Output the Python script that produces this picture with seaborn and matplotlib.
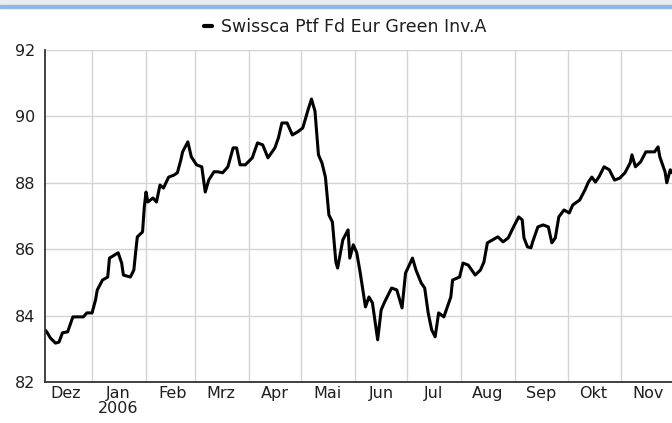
import matplotlib
matplotlib.use("Agg")
import matplotlib.pyplot as plt
from matplotlib.patches import Rectangle
import numpy as np
import pandas as pd
import seaborn as sns

# fund price (Dec 2005 - Nov 2006)
dates = [
    "2005-12-05", "2005-12-06", "2005-12-08", "2005-12-11", "2005-12-13", "2005-12-15",
    "2005-12-18", "2005-12-21", "2005-12-23", "2005-12-27", "2005-12-29",
    "2006-01-01", "2006-01-03", "2006-01-04", "2006-01-07", "2006-01-10", "2006-01-11",
    "2006-01-16", "2006-01-18", "2006-01-19", "2006-01-23", "2006-01-25", "2006-01-26",
    "2006-01-27", "2006-01-30", "2006-01-31",
    "2006-02-01", "2006-02-02", "2006-02-05", "2006-02-07", "2006-02-09", "2006-02-11",
    "2006-02-14", "2006-02-17", "2006-02-19", "2006-02-21", "2006-02-22", "2006-02-25",
    "2006-02-27",
    "2006-03-02", "2006-03-05", "2006-03-07", "2006-03-09", "2006-03-12", "2006-03-14",
    "2006-03-17", "2006-03-20", "2006-03-23", "2006-03-25", "2006-03-27", "2006-03-30",
    "2006-04-03", "2006-04-06", "2006-04-09", "2006-04-12", "2006-04-16", "2006-04-18",
    "2006-04-20", "2006-04-23", "2006-04-26", "2006-04-29",
    "2006-05-02", "2006-05-05", "2006-05-07", "2006-05-09", "2006-05-11", "2006-05-13",
    "2006-05-15", "2006-05-17", "2006-05-19", "2006-05-21", "2006-05-22", "2006-05-25",
    "2006-05-28", "2006-05-29", "2006-05-31",
    "2006-06-02", "2006-06-04", "2006-06-07", "2006-06-09", "2006-06-11", "2006-06-14",
    "2006-06-16", "2006-06-18", "2006-06-22", "2006-06-25", "2006-06-28", "2006-06-30",
    "2006-07-04", "2006-07-06", "2006-07-09", "2006-07-11", "2006-07-13", "2006-07-15",
    "2006-07-17", "2006-07-19", "2006-07-22", "2006-07-26", "2006-07-27", "2006-07-31",
    "2006-08-02", "2006-08-05", "2006-08-09", "2006-08-12", "2006-08-14", "2006-08-16",
    "2006-08-19", "2006-08-22", "2006-08-25", "2006-08-28", "2006-08-31",
    "2006-09-03", "2006-09-05", "2006-09-06", "2006-09-08", "2006-09-10", "2006-09-11",
    "2006-09-14", "2006-09-17", "2006-09-20", "2006-09-22", "2006-09-24", "2006-09-26",
    "2006-09-29",
    "2006-10-02", "2006-10-04", "2006-10-08", "2006-10-11", "2006-10-13", "2006-10-15",
    "2006-10-17", "2006-10-19", "2006-10-22", "2006-10-25", "2006-10-28", "2006-10-31",
    "2006-11-03", "2006-11-06", "2006-11-07", "2006-11-09", "2006-11-12", "2006-11-15",
    "2006-11-20", "2006-11-22", "2006-11-23", "2006-11-26", "2006-11-27", "2006-11-29",
    "2006-11-30",
]
prices = [
    83.57, 83.51, 83.33, 83.17, 83.20, 83.48,
    83.51, 83.96, 83.96, 83.96, 84.08,
    84.08, 84.47, 84.77, 85.07, 85.16, 85.73,
    85.89, 85.58, 85.22, 85.16, 85.37, 85.89,
    86.37, 86.52, 87.27,
    87.72, 87.42, 87.54, 87.42, 87.93, 87.84,
    88.17, 88.23, 88.30, 88.69, 88.93, 89.23,
    88.78,
    88.54, 88.48, 87.72, 88.08, 88.33, 88.33,
    88.30, 88.48, 89.05, 89.05, 88.54, 88.54,
    88.75, 89.20, 89.14, 88.75, 89.05, 89.35,
    89.80, 89.80, 89.44, 89.53,
    89.65, 90.19, 90.52, 90.16, 88.84, 88.60,
    88.17, 87.03, 86.82, 85.61, 85.43, 86.28,
    86.58, 85.73, 86.13,
    85.89, 85.28, 84.26, 84.56, 84.38, 83.27,
    84.17, 84.41, 84.83, 84.77, 84.23, 85.28,
    85.73, 85.37, 84.98, 84.83, 84.08, 83.57,
    83.36, 84.08, 83.96, 84.56, 85.07, 85.16,
    85.58, 85.52, 85.22, 85.37, 85.61, 86.19,
    86.28, 86.37, 86.22, 86.34, 86.67,
    86.97, 86.88, 86.34, 86.07, 86.04, 86.22,
    86.67, 86.73, 86.67, 86.19, 86.34, 86.97,
    87.18,
    87.09, 87.33, 87.48, 87.78, 88.02, 88.17,
    88.02, 88.17, 88.48, 88.39, 88.08, 88.14,
    88.30, 88.60, 88.84, 88.48, 88.63, 88.93,
    88.93, 89.08, 88.78, 88.33, 88.00, 88.39,
    88.30,
]
series_name = "Swissca Ptf Fd Eur Green Inv.A"
month_labels = ["Dez", "Jan\n2006", "Feb", "Mrz", "Apr", "Mai", "Jun",
                "Jul", "Aug", "Sep", "Okt", "Nov"]

df = pd.DataFrame({"date": pd.to_datetime(dates), "price": prices})

sns.set_style("white")
plt.rcParams["font.family"] = ["DejaVu Sans"]

fig = plt.figure(figsize=(6.72, 4.23), dpi=100)
# window frame strip at the very top of the screenshot
fig.patches.append(Rectangle((0, 0.985), 1, 0.015, transform=fig.transFigure,
                             color="#e9ecf0", zorder=0))
fig.patches.append(Rectangle((0, 0.982), 1, 0.005, transform=fig.transFigure,
                             color="#8db8e8", zorder=0))

ax = fig.add_axes([0.067, 0.097, 0.933, 0.785])
sns.lineplot(data=df, x="date", y="price", ax=ax, color="black",
             linewidth=2.2, label=series_name)

ax.set_xlim(pd.Timestamp("2005-12-05"), pd.Timestamp("2006-11-30"))
ax.set_ylim(82, 92)

# month boundaries -> ticks + grid, labels in the middle of each month
month_starts = pd.date_range("2006-01-01", "2006-11-01", freq="MS")
label_pos = [pd.Timestamp("2005-12-17")] + list(month_starts + pd.Timedelta(days=15))
ax.set_xticks(month_starts)
ax.set_xticklabels([""] * len(month_starts))
ax.set_xticks(label_pos, minor=True)
ax.set_xticklabels(month_labels, minor=True, fontsize=11.5, color="#1e1e1e",
                   linespacing=1.0)
ax.tick_params(axis="x", which="major", direction="inout", length=7, width=1.2, color="#333333")
ax.tick_params(axis="x", which="minor", length=0, pad=3)

ax.set_yticks(np.arange(82, 93, 2))
ax.set_yticks(np.arange(83, 92, 2), minor=True)
ax.tick_params(axis="y", which="major", direction="inout", length=7, width=1.2,
               color="#333333", labelsize=11.5, labelcolor="#1e1e1e", pad=3.5)
ax.tick_params(axis="y", which="minor", direction="inout", length=7, width=1.2, color="#333333")

ax.grid(True, which="major", color="#d4d4d4", linewidth=1.0)
ax.set_axisbelow(True)
for s in ["top", "right"]:
    ax.spines[s].set_visible(False)
for s in ["left", "bottom"]:
    ax.spines[s].set_color("#333333")
    ax.spines[s].set_linewidth(1.3)
ax.set_xlabel("")
ax.set_ylabel("")

ax.get_legend().remove()
handles, labels = ax.get_legend_handles_labels()
leg = fig.legend(handles, labels, loc="center", bbox_to_anchor=(0.514, 0.936),
                 frameon=False, handlelength=0.45, handletextpad=0.55,
                 fontsize=12.5, borderpad=0, borderaxespad=0)
for t in leg.get_texts():
    t.set_color("#1e1e1e")
for h in leg.legend_handles:
    h.set_linewidth(3)

fig.savefig("out.png", dpi=100)
